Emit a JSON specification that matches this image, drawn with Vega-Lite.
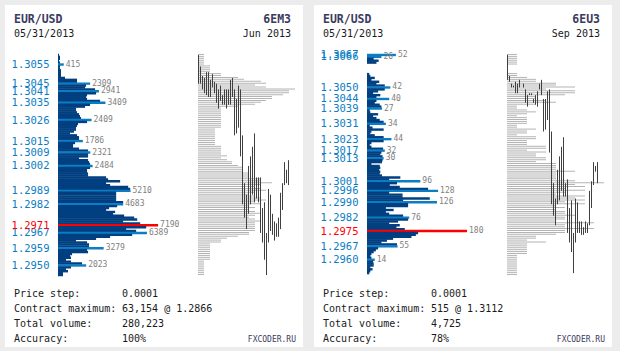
{
"$schema": "https://vega.github.io/schema/vega-lite/v6.json",
"background": "#ececec",
"padding": {"left": 5, "top": 5, "right": 8, "bottom": 4},
"config": {"view": {"stroke": null, "fill": "#ffffff"}, "font": "DejaVu Sans Mono"},
"datasets": {
"volL": [
{"p":1.3060,"vol":72,"kind":"n"},{"p":1.3059,"vol":144,"kind":"n"},{"p":1.3058,"vol":144,"kind":"n"},{"p":1.3057,"vol":72,"kind":"n"},{"p":1.3056,"vol":144,"kind":"n"},
{"p":1.3055,"vol":415,"kind":"p"},{"p":1.3054,"vol":144,"kind":"n"},{"p":1.3053,"vol":144,"kind":"n"},{"p":1.3052,"vol":216,"kind":"n"},{"p":1.3051,"vol":216,"kind":"n"},
{"p":1.3050,"vol":216,"kind":"n"},{"p":1.3049,"vol":216,"kind":"n"},{"p":1.3048,"vol":504,"kind":"n"},{"p":1.3047,"vol":1368,"kind":"n"},{"p":1.3046,"vol":1368,"kind":"n"},
{"p":1.3045,"vol":2309,"kind":"p"},{"p":1.3044,"vol":2016,"kind":"n"},{"p":1.3043,"vol":1944,"kind":"n"},{"p":1.3042,"vol":2664,"kind":"n"},{"p":1.3041,"vol":2941,"kind":"p"},
{"p":1.3040,"vol":2736,"kind":"n"},{"p":1.3039,"vol":2088,"kind":"n"},{"p":1.3038,"vol":2016,"kind":"n"},{"p":1.3037,"vol":2088,"kind":"n"},{"p":1.3036,"vol":3024,"kind":"n"},
{"p":1.3035,"vol":3409,"kind":"p"},{"p":1.3034,"vol":2304,"kind":"n"},{"p":1.3033,"vol":1944,"kind":"n"},{"p":1.3032,"vol":1296,"kind":"n"},{"p":1.3031,"vol":1296,"kind":"n"},
{"p":1.3030,"vol":1368,"kind":"n"},{"p":1.3029,"vol":1512,"kind":"n"},{"p":1.3028,"vol":1584,"kind":"n"},{"p":1.3027,"vol":1656,"kind":"n"},{"p":1.3026,"vol":2409,"kind":"p"},
{"p":1.3025,"vol":2088,"kind":"n"},{"p":1.3024,"vol":1440,"kind":"n"},{"p":1.3023,"vol":1368,"kind":"n"},{"p":1.3022,"vol":1296,"kind":"n"},{"p":1.3021,"vol":1296,"kind":"n"},
{"p":1.3020,"vol":1152,"kind":"n"},{"p":1.3019,"vol":864,"kind":"n"},{"p":1.3018,"vol":1368,"kind":"n"},{"p":1.3017,"vol":1512,"kind":"n"},{"p":1.3016,"vol":1512,"kind":"n"},
{"p":1.3015,"vol":1786,"kind":"p"},{"p":1.3014,"vol":1224,"kind":"n"},{"p":1.3013,"vol":1080,"kind":"n"},{"p":1.3012,"vol":1080,"kind":"n"},{"p":1.3011,"vol":1512,"kind":"n"},
{"p":1.3010,"vol":2160,"kind":"n"},{"p":1.3009,"vol":2321,"kind":"p"},{"p":1.3008,"vol":2160,"kind":"n"},{"p":1.3007,"vol":2160,"kind":"n"},{"p":1.3006,"vol":1512,"kind":"n"},
{"p":1.3005,"vol":2160,"kind":"n"},{"p":1.3004,"vol":2232,"kind":"n"},{"p":1.3003,"vol":2304,"kind":"n"},{"p":1.3002,"vol":2484,"kind":"p"},{"p":1.3001,"vol":2304,"kind":"n"},
{"p":1.3000,"vol":2088,"kind":"n"},{"p":1.2999,"vol":2088,"kind":"n"},{"p":1.2998,"vol":2160,"kind":"n"},{"p":1.2997,"vol":2160,"kind":"n"},{"p":1.2996,"vol":3456,"kind":"n"},
{"p":1.2995,"vol":3600,"kind":"n"},{"p":1.2994,"vol":4464,"kind":"n"},{"p":1.2993,"vol":3456,"kind":"n"},{"p":1.2992,"vol":3744,"kind":"n"},{"p":1.2991,"vol":5040,"kind":"n"},
{"p":1.2990,"vol":5184,"kind":"n"},{"p":1.2989,"vol":5210,"kind":"p"},{"p":1.2988,"vol":4176,"kind":"n"},{"p":1.2987,"vol":4176,"kind":"n"},{"p":1.2986,"vol":4176,"kind":"n"},
{"p":1.2985,"vol":4176,"kind":"n"},{"p":1.2984,"vol":4176,"kind":"n"},{"p":1.2983,"vol":4680,"kind":"n"},{"p":1.2982,"vol":4683,"kind":"p"},{"p":1.2981,"vol":4248,"kind":"n"},
{"p":1.2980,"vol":3672,"kind":"n"},{"p":1.2979,"vol":3456,"kind":"n"},{"p":1.2978,"vol":4104,"kind":"n"},{"p":1.2977,"vol":3960,"kind":"n"},{"p":1.2976,"vol":4752,"kind":"n"},
{"p":1.2975,"vol":5472,"kind":"n"},{"p":1.2974,"vol":5688,"kind":"n"},{"p":1.2973,"vol":4680,"kind":"n"},{"p":1.2972,"vol":5904,"kind":"n"},{"p":1.2971,"vol":7190,"kind":"m"},
{"p":1.2970,"vol":6336,"kind":"n"},{"p":1.2969,"vol":4896,"kind":"n"},{"p":1.2968,"vol":5616,"kind":"n"},{"p":1.2967,"vol":6389,"kind":"p"},{"p":1.2966,"vol":5328,"kind":"n"},
{"p":1.2965,"vol":3744,"kind":"n"},{"p":1.2964,"vol":2736,"kind":"n"},{"p":1.2963,"vol":1296,"kind":"n"},{"p":1.2962,"vol":2088,"kind":"n"},{"p":1.2961,"vol":2232,"kind":"n"},
{"p":1.2960,"vol":2232,"kind":"n"},{"p":1.2959,"vol":3279,"kind":"p"},{"p":1.2958,"vol":2088,"kind":"n"},{"p":1.2957,"vol":2160,"kind":"n"},{"p":1.2956,"vol":1008,"kind":"n"},
{"p":1.2955,"vol":864,"kind":"n"},{"p":1.2954,"vol":936,"kind":"n"},{"p":1.2953,"vol":576,"kind":"n"},{"p":1.2952,"vol":936,"kind":"n"},{"p":1.2951,"vol":1728,"kind":"n"},
{"p":1.2950,"vol":2023,"kind":"p"},{"p":1.2949,"vol":936,"kind":"n"},{"p":1.2948,"vol":576,"kind":"n"},{"p":1.2947,"vol":720,"kind":"n"},{"p":1.2946,"vol":360,"kind":"n"},
{"p":1.2945,"vol":360,"kind":"n"}
],
"volR": [
{"p":1.3067,"vol":52,"kind":"p"},{"p":1.3066,"vol":26,"kind":"p"},{"p":1.3065,"vol":12,"kind":"n"},{"p":1.3064,"vol":21,"kind":"n"},{"p":1.3063,"vol":17,"kind":"n"},
{"p":1.3057,"vol":4,"kind":"n"},{"p":1.3056,"vol":6,"kind":"n"},{"p":1.3055,"vol":14,"kind":"n"},{"p":1.3054,"vol":8,"kind":"n"},{"p":1.3053,"vol":22,"kind":"n"},
{"p":1.3052,"vol":17,"kind":"n"},{"p":1.3051,"vol":32,"kind":"n"},{"p":1.3050,"vol":42,"kind":"p"},{"p":1.3049,"vol":32,"kind":"n"},{"p":1.3048,"vol":20,"kind":"n"},
{"p":1.3047,"vol":11,"kind":"n"},{"p":1.3046,"vol":24,"kind":"n"},{"p":1.3045,"vol":17,"kind":"n"},{"p":1.3044,"vol":40,"kind":"p"},{"p":1.3043,"vol":17,"kind":"n"},
{"p":1.3042,"vol":14,"kind":"n"},{"p":1.3041,"vol":23,"kind":"n"},{"p":1.3040,"vol":26,"kind":"n"},{"p":1.3039,"vol":27,"kind":"p"},{"p":1.3038,"vol":5,"kind":"n"},
{"p":1.3037,"vol":6,"kind":"n"},{"p":1.3036,"vol":20,"kind":"n"},{"p":1.3035,"vol":11,"kind":"n"},{"p":1.3034,"vol":17,"kind":"n"},{"p":1.3033,"vol":23,"kind":"n"},
{"p":1.3032,"vol":30,"kind":"n"},{"p":1.3031,"vol":34,"kind":"p"},{"p":1.3030,"vol":5,"kind":"n"},{"p":1.3029,"vol":10,"kind":"n"},{"p":1.3028,"vol":30,"kind":"n"},
{"p":1.3027,"vol":8,"kind":"n"},{"p":1.3026,"vol":6,"kind":"n"},{"p":1.3025,"vol":14,"kind":"n"},{"p":1.3024,"vol":30,"kind":"n"},{"p":1.3023,"vol":44,"kind":"p"},
{"p":1.3022,"vol":30,"kind":"n"},{"p":1.3021,"vol":8,"kind":"n"},{"p":1.3020,"vol":5,"kind":"n"},{"p":1.3019,"vol":8,"kind":"n"},{"p":1.3018,"vol":29,"kind":"n"},
{"p":1.3017,"vol":32,"kind":"p"},{"p":1.3016,"vol":26,"kind":"n"},{"p":1.3015,"vol":24,"kind":"n"},{"p":1.3014,"vol":28,"kind":"n"},{"p":1.3013,"vol":30,"kind":"p"},
{"p":1.3012,"vol":28,"kind":"n"},{"p":1.3011,"vol":27,"kind":"n"},{"p":1.3010,"vol":8,"kind":"n"},{"p":1.3009,"vol":23,"kind":"n"},{"p":1.3008,"vol":24,"kind":"n"},
{"p":1.3007,"vol":22,"kind":"n"},{"p":1.3006,"vol":24,"kind":"n"},{"p":1.3005,"vol":23,"kind":"n"},{"p":1.3004,"vol":27,"kind":"n"},{"p":1.3003,"vol":60,"kind":"n"},
{"p":1.3002,"vol":40,"kind":"n"},{"p":1.3001,"vol":96,"kind":"p"},{"p":1.3000,"vol":54,"kind":"n"},{"p":1.2999,"vol":41,"kind":"n"},{"p":1.2998,"vol":59,"kind":"n"},
{"p":1.2997,"vol":110,"kind":"n"},{"p":1.2996,"vol":128,"kind":"p"},{"p":1.2995,"vol":40,"kind":"n"},{"p":1.2994,"vol":64,"kind":"n"},{"p":1.2993,"vol":64,"kind":"n"},
{"p":1.2992,"vol":113,"kind":"n"},{"p":1.2991,"vol":65,"kind":"n"},{"p":1.2990,"vol":126,"kind":"p"},{"p":1.2989,"vol":74,"kind":"n"},{"p":1.2988,"vol":74,"kind":"n"},
{"p":1.2987,"vol":34,"kind":"n"},{"p":1.2986,"vol":48,"kind":"n"},{"p":1.2985,"vol":34,"kind":"n"},{"p":1.2984,"vol":40,"kind":"n"},{"p":1.2983,"vol":65,"kind":"n"},
{"p":1.2982,"vol":76,"kind":"p"},{"p":1.2981,"vol":74,"kind":"n"},{"p":1.2980,"vol":56,"kind":"n"},{"p":1.2979,"vol":40,"kind":"n"},{"p":1.2978,"vol":59,"kind":"n"},
{"p":1.2977,"vol":53,"kind":"n"},{"p":1.2976,"vol":68,"kind":"n"},{"p":1.2975,"vol":180,"kind":"m"},{"p":1.2974,"vol":92,"kind":"n"},{"p":1.2973,"vol":88,"kind":"n"},
{"p":1.2972,"vol":80,"kind":"n"},{"p":1.2971,"vol":47,"kind":"n"},{"p":1.2970,"vol":36,"kind":"n"},{"p":1.2969,"vol":26,"kind":"n"},{"p":1.2968,"vol":54,"kind":"n"},
{"p":1.2967,"vol":55,"kind":"p"},{"p":1.2966,"vol":20,"kind":"n"},{"p":1.2965,"vol":16,"kind":"n"},{"p":1.2964,"vol":12,"kind":"n"},{"p":1.2963,"vol":8,"kind":"n"},
{"p":1.2962,"vol":6,"kind":"n"},{"p":1.2961,"vol":8,"kind":"n"},{"p":1.2960,"vol":14,"kind":"p"},{"p":1.2959,"vol":11,"kind":"n"},{"p":1.2958,"vol":12,"kind":"n"},
{"p":1.2957,"vol":12,"kind":"n"},{"p":1.2956,"vol":6,"kind":"n"},{"p":1.2955,"vol":10,"kind":"n"},{"p":1.2954,"vol":6,"kind":"n"},{"p":1.2953,"vol":4,"kind":"n"}
],
"grayL": [
{"p":1.3060,"v":6},{"p":1.3059,"v":6},{"p":1.3058,"v":6},{"p":1.3057,"v":6},{"p":1.3056,"v":6},{"p":1.3055,"v":6},
{"p":1.3054,"v":12},{"p":1.3053,"v":12},{"p":1.3052,"v":12},{"p":1.3051,"v":12},{"p":1.3050,"v":23},{"p":1.3049,"v":23},
{"p":1.3048,"v":40},{"p":1.3047,"v":46},{"p":1.3046,"v":63},{"p":1.3045,"v":68},{"p":1.3044,"v":57},{"p":1.3043,"v":68},
{"p":1.3042,"v":97},{"p":1.3041,"v":91},{"p":1.3040,"v":91},{"p":1.3039,"v":85},{"p":1.3038,"v":74},{"p":1.3037,"v":74},
{"p":1.3036,"v":68},{"p":1.3035,"v":63},{"p":1.3034,"v":57},{"p":1.3033,"v":40},{"p":1.3032,"v":23},{"p":1.3031,"v":23},
{"p":1.3030,"v":23},{"p":1.3029,"v":23},{"p":1.3028,"v":23},{"p":1.3027,"v":23},{"p":1.3026,"v":23},{"p":1.3025,"v":23},
{"p":1.3024,"v":23},{"p":1.3023,"v":23},{"p":1.3022,"v":23},{"p":1.3021,"v":17},{"p":1.3020,"v":17},{"p":1.3019,"v":17},
{"p":1.3018,"v":17},{"p":1.3017,"v":17},{"p":1.3016,"v":17},{"p":1.3015,"v":17},{"p":1.3014,"v":17},{"p":1.3013,"v":17},
{"p":1.3012,"v":23},{"p":1.3011,"v":23},{"p":1.3010,"v":23},{"p":1.3009,"v":23},{"p":1.3008,"v":23},{"p":1.3007,"v":29},
{"p":1.3006,"v":23},{"p":1.3005,"v":29},{"p":1.3004,"v":34},{"p":1.3003,"v":34},{"p":1.3002,"v":40},{"p":1.3001,"v":45},
{"p":1.3000,"v":45},{"p":1.2999,"v":45},{"p":1.2998,"v":51},{"p":1.2997,"v":51},{"p":1.2996,"v":51},{"p":1.2995,"v":63},
{"p":1.2994,"v":63},{"p":1.2993,"v":74},{"p":1.2992,"v":63},{"p":1.2991,"v":57},{"p":1.2990,"v":63},{"p":1.2989,"v":68},
{"p":1.2988,"v":57},{"p":1.2987,"v":51},{"p":1.2986,"v":57},{"p":1.2985,"v":63},{"p":1.2984,"v":68},{"p":1.2983,"v":57},
{"p":1.2982,"v":63},{"p":1.2981,"v":51},{"p":1.2980,"v":57},{"p":1.2979,"v":51},{"p":1.2978,"v":57},{"p":1.2977,"v":63},
{"p":1.2976,"v":57},{"p":1.2975,"v":51},{"p":1.2974,"v":57},{"p":1.2973,"v":63},{"p":1.2972,"v":57},{"p":1.2971,"v":57},
{"p":1.2970,"v":57},{"p":1.2969,"v":57},{"p":1.2968,"v":57},{"p":1.2967,"v":51},{"p":1.2966,"v":51},{"p":1.2965,"v":40},
{"p":1.2964,"v":29},{"p":1.2963,"v":23},{"p":1.2962,"v":23},{"p":1.2961,"v":12},{"p":1.2960,"v":12},{"p":1.2959,"v":12},
{"p":1.2958,"v":12},{"p":1.2957,"v":12},{"p":1.2956,"v":12},{"p":1.2955,"v":12},{"p":1.2954,"v":12},{"p":1.2953,"v":12},
{"p":1.2952,"v":6},{"p":1.2951,"v":6},{"p":1.2950,"v":6},{"p":1.2949,"v":6},{"p":1.2948,"v":6},{"p":1.2947,"v":6},
{"p":1.2946,"v":6},{"p":1.2945,"v":6}
],
"grayR": [
{"p":1.3067,"v":10},{"p":1.3066,"v":10},{"p":1.3065,"v":10},{"p":1.3064,"v":10},{"p":1.3063,"v":10},{"p":1.3062,"v":10},
{"p":1.3057,"v":10},{"p":1.3056,"v":10},{"p":1.3055,"v":20},{"p":1.3054,"v":29},{"p":1.3053,"v":29},{"p":1.3052,"v":49},
{"p":1.3051,"v":49},{"p":1.3050,"v":68},{"p":1.3049,"v":39},{"p":1.3048,"v":68},{"p":1.3047,"v":68},{"p":1.3046,"v":58},
{"p":1.3045,"v":29},{"p":1.3044,"v":29},{"p":1.3043,"v":39},{"p":1.3042,"v":49},{"p":1.3041,"v":29},{"p":1.3040,"v":10},
{"p":1.3039,"v":10},{"p":1.3038,"v":20},{"p":1.3037,"v":29},{"p":1.3036,"v":20},{"p":1.3035,"v":10},{"p":1.3034,"v":20},
{"p":1.3033,"v":20},{"p":1.3032,"v":20},{"p":1.3031,"v":20},{"p":1.3030,"v":10},{"p":1.3029,"v":10},{"p":1.3028,"v":29},
{"p":1.3027,"v":20},{"p":1.3026,"v":20},{"p":1.3025,"v":10},{"p":1.3024,"v":29},{"p":1.3023,"v":29},{"p":1.3022,"v":20},
{"p":1.3021,"v":20},{"p":1.3020,"v":20},{"p":1.3019,"v":39},{"p":1.3018,"v":39},{"p":1.3017,"v":20},{"p":1.3016,"v":39},
{"p":1.3015,"v":29},{"p":1.3014,"v":29},{"p":1.3013,"v":39},{"p":1.3012,"v":39},{"p":1.3011,"v":29},{"p":1.3010,"v":49},
{"p":1.3009,"v":49},{"p":1.3008,"v":49},{"p":1.3007,"v":49},{"p":1.3006,"v":68},{"p":1.3005,"v":49},{"p":1.3004,"v":49},
{"p":1.3003,"v":49},{"p":1.3002,"v":49},{"p":1.3001,"v":68},{"p":1.3000,"v":97},{"p":1.2999,"v":68},{"p":1.2998,"v":78},
{"p":1.2997,"v":58},{"p":1.2996,"v":78},{"p":1.2995,"v":58},{"p":1.2994,"v":49},{"p":1.2993,"v":78},{"p":1.2992,"v":68},
{"p":1.2991,"v":78},{"p":1.2990,"v":58},{"p":1.2989,"v":78},{"p":1.2988,"v":49},{"p":1.2987,"v":58},{"p":1.2986,"v":49},
{"p":1.2985,"v":58},{"p":1.2984,"v":58},{"p":1.2983,"v":68},{"p":1.2982,"v":58},{"p":1.2981,"v":58},{"p":1.2980,"v":49},
{"p":1.2979,"v":87},{"p":1.2978,"v":58},{"p":1.2977,"v":58},{"p":1.2976,"v":87},{"p":1.2975,"v":58},{"p":1.2974,"v":58},
{"p":1.2973,"v":49},{"p":1.2972,"v":29},{"p":1.2971,"v":29},{"p":1.2970,"v":20},{"p":1.2969,"v":39},{"p":1.2968,"v":20},
{"p":1.2967,"v":20},{"p":1.2966,"v":20},{"p":1.2965,"v":20},{"p":1.2964,"v":20},{"p":1.2963,"v":20},{"p":1.2962,"v":10},
{"p":1.2961,"v":10},{"p":1.2960,"v":10},{"p":1.2959,"v":10},{"p":1.2958,"v":10},{"p":1.2957,"v":10},{"p":1.2956,"v":10},
{"p":1.2955,"v":10},{"p":1.2954,"v":10},{"p":1.2953,"v":10},{"p":1.2952,"v":10}
],
"barsL": [
{"t":0,"hi":1.3060,"lo":1.3045},{"t":1,"hi":1.3054,"lo":1.3045},{"t":2,"hi":1.3049,"lo":1.3042},{"t":3,"hi":1.3048,"lo":1.3040},
{"t":4,"hi":1.3051,"lo":1.3039},{"t":5,"hi":1.3051,"lo":1.3038},{"t":6,"hi":1.3047,"lo":1.3038},{"t":7,"hi":1.3050,"lo":1.3043},
{"t":8,"hi":1.3046,"lo":1.3040},{"t":9,"hi":1.3045,"lo":1.3035},{"t":10,"hi":1.3042,"lo":1.3032},{"t":11,"hi":1.3044,"lo":1.3036},
{"t":12,"hi":1.3039,"lo":1.3034},{"t":13,"hi":1.3042,"lo":1.3034},{"t":14,"hi":1.3042,"lo":1.3032},{"t":15,"hi":1.3042,"lo":1.3034},
{"t":16,"hi":1.3047,"lo":1.3034},{"t":17,"hi":1.3048,"lo":1.3038},{"t":18,"hi":1.3042,"lo":1.3018},{"t":19,"hi":1.3037,"lo":1.3019},
{"t":20,"hi":1.3044,"lo":1.3022},{"t":21,"hi":1.3042,"lo":1.3007},{"t":22,"hi":1.3018,"lo":1.2982},{"t":23,"hi":1.2993,"lo":1.2975},
{"t":24,"hi":1.2987,"lo":1.2969},{"t":25,"hi":1.3002,"lo":1.2977},{"t":26,"hi":1.3007,"lo":1.2982},{"t":27,"hi":1.3012,"lo":1.2987},
{"t":28,"hi":1.3019,"lo":1.2983},{"t":29,"hi":1.2996,"lo":1.2985},{"t":30,"hi":1.2996,"lo":1.2983},{"t":31,"hi":1.2996,"lo":1.2967},
{"t":32,"hi":1.2980,"lo":1.2962},{"t":33,"hi":1.2983,"lo":1.2953},{"t":34,"hi":1.2967,"lo":1.2945},{"t":35,"hi":1.2990,"lo":1.2962},
{"t":36,"hi":1.2987,"lo":1.2968},{"t":37,"hi":1.2977,"lo":1.2966},{"t":38,"hi":1.2973,"lo":1.2963},{"t":39,"hi":1.2972,"lo":1.2965},
{"t":40,"hi":1.2975,"lo":1.2965},{"t":41,"hi":1.2988,"lo":1.2969},{"t":42,"hi":1.2993,"lo":1.2979},{"t":43,"hi":1.3004,"lo":1.2992},
{"t":44,"hi":1.3000,"lo":1.2993},{"t":45,"hi":1.3005,"lo":1.2992}
],
"barsR": [
{"t":0,"hi":1.3067,"lo":1.3054},{"t":1,"hi":1.3056,"lo":1.3053},{"t":2,"hi":1.3052,"lo":1.3050},{"t":3,"hi":1.3051,"lo":1.3050},
{"t":4,"hi":1.3053,"lo":1.3047},{"t":5,"hi":1.3052,"lo":1.3047},{"t":6,"hi":1.3054,"lo":1.3050},{"t":8,"hi":1.3052,"lo":1.3050},
{"t":9,"hi":1.3049,"lo":1.3042},{"t":10,"hi":1.3046,"lo":1.3040},{"t":11,"hi":1.3047,"lo":1.3046},{"t":12,"hi":1.3047,"lo":1.3046},
{"t":13,"hi":1.3044,"lo":1.3042},{"t":14,"hi":1.3046,"lo":1.3041},{"t":15,"hi":1.3048,"lo":1.3040},{"t":16,"hi":1.3052,"lo":1.3049},
{"t":17,"hi":1.3054,"lo":1.3046},{"t":18,"hi":1.3044,"lo":1.3027},{"t":19,"hi":1.3044,"lo":1.3028},{"t":20,"hi":1.3048,"lo":1.3033},
{"t":21,"hi":1.3049,"lo":1.3016},{"t":22,"hi":1.3027,"lo":1.2989},{"t":23,"hi":1.3000,"lo":1.2983},{"t":24,"hi":1.2992,"lo":1.2978},
{"t":25,"hi":1.3007,"lo":1.2989},{"t":26,"hi":1.3014,"lo":1.2991},{"t":27,"hi":1.3019,"lo":1.2996},{"t":28,"hi":1.3024,"lo":1.2993},
{"t":29,"hi":1.3000,"lo":1.2993},{"t":30,"hi":1.3002,"lo":1.2974},{"t":31,"hi":1.2987,"lo":1.2969},{"t":32,"hi":1.2991,"lo":1.2964},
{"t":33,"hi":1.2974,"lo":1.2953},{"t":34,"hi":1.2992,"lo":1.2969},{"t":35,"hi":1.2990,"lo":1.2974},{"t":36,"hi":1.2980,"lo":1.2974},
{"t":37,"hi":1.2980,"lo":1.2973},{"t":38,"hi":1.2977,"lo":1.2973},{"t":39,"hi":1.2980,"lo":1.2974},{"t":40,"hi":1.2979,"lo":1.2974},
{"t":41,"hi":1.2996,"lo":1.2978},{"t":42,"hi":1.3001,"lo":1.2987},{"t":43,"hi":1.3011,"lo":1.2999},{"t":44,"hi":1.3009,"lo":1.3006},
{"t":45,"hi":1.3011,"lo":1.3000}
]
},
"spacing": 11,
"hconcat": [
{"vconcat": [
 {"width": 298, "height": 44,
  "data": {"values": [{"pair": "EUR/USD", "date": "05/31/2013", "contract": "6EM3", "month": "Jun 2013"}]},
  "layer": [
   {"mark": {"type": "text", "align": "left", "baseline": "alphabetic", "fontWeight": "bold", "fontSize": 11.5, "color": "#3b3b5e"},
    "encoding": {"text": {"field": "pair"}, "x": {"datum": 0, "type": "quantitative", "scale": {"domain": [0, 1], "range": [9, 286]}, "axis": null}, "y": {"datum": 1, "type": "quantitative", "scale": {"domain": [1, 2], "range": [18, 32]}, "axis": null}}},
   {"mark": {"type": "text", "align": "right", "baseline": "alphabetic", "fontWeight": "bold", "fontSize": 11.5, "color": "#3b3b5e"},
    "encoding": {"text": {"field": "contract"}, "x": {"datum": 1, "type": "quantitative", "scale": {"domain": [0, 1], "range": [9, 286]}, "axis": null}, "y": {"datum": 1, "type": "quantitative", "scale": {"domain": [1, 2], "range": [18, 32]}, "axis": null}}},
   {"mark": {"type": "text", "align": "left", "baseline": "alphabetic", "fontSize": 10, "color": "#1a1a1a"},
    "encoding": {"text": {"field": "date"}, "x": {"datum": 0, "type": "quantitative", "scale": {"domain": [0, 1], "range": [9, 286]}, "axis": null}, "y": {"datum": 2, "type": "quantitative", "scale": {"domain": [1, 2], "range": [18, 32]}, "axis": null}}},
   {"mark": {"type": "text", "align": "right", "baseline": "alphabetic", "fontSize": 10, "color": "#1a1a1a"},
    "encoding": {"text": {"field": "month"}, "x": {"datum": 1, "type": "quantitative", "scale": {"domain": [0, 1], "range": [9, 286]}, "axis": null}, "y": {"datum": 2, "type": "quantitative", "scale": {"domain": [1, 2], "range": [18, 32]}, "axis": null}}}
  ]},
 {"width": 298, "height": 232,
  "layer": [
   {"data": {"name": "grayL"}, "mark": {"type": "bar", "orient": "horizontal", "size": 1, "yOffset": -0.5, "color": "#b4b4b4"},
    "encoding": {"x": {"field": "v", "type": "quantitative", "stack": null, "scale": {"domain": [0, 100], "range": [193, 293]}, "axis": null},
                 "y": {"field": "p", "type": "quantitative", "scale": {"domain": [1.29445, 1.30605], "nice": false, "zero": false}, "axis": null}}},
   {"data": {"name": "barsL"}, "mark": {"type": "rule", "color": "#404040", "strokeWidth": 1},
    "encoding": {"x": {"field": "t", "type": "quantitative", "scale": {"domain": [0, 45], "range": [193.5, 283.5]}, "axis": null},
                 "y": {"field": "hi", "type": "quantitative", "scale": {"domain": [1.29445, 1.30605], "nice": false, "zero": false}, "axis": null},
                 "y2": {"field": "lo"}}},
   {"data": {"name": "volL"}, "mark": {"type": "bar", "orient": "horizontal", "size": 2.4},
    "encoding": {"x": {"field": "vol", "type": "quantitative", "stack": null, "scale": {"domain": [0, 17600], "range": [53, 298]}, "axis": null},
                 "y": {"field": "p", "type": "quantitative", "scale": {"domain": [1.29445, 1.30605], "nice": false, "zero": false},
                       "axis": {"orient": "left", "values": [1.3055, 1.3045, 1.3041, 1.3035, 1.3026, 1.3015, 1.3009, 1.3002, 1.2989, 1.2982, 1.2971, 1.2967, 1.2959, 1.2950],
                                "format": ".4f", "title": null, "domain": false, "ticks": false, "grid": false, "labelPadding": 0, "offset": -44,
                                "labelFont": "DejaVu Sans Mono", "labelFontSize": 10.5, "labelOverlap": false, "labelFlush": false,
                                "labelColor": {"condition": {"test": "abs(datum.value - 1.2971) < 0.00001", "value": "#ff0000"}, "value": "#0a7dc3"}}},
                 "color": {"field": "kind", "type": "nominal", "scale": {"domain": ["n", "p", "m"], "range": ["#013f80", "#0a7dc3", "#ff0000"]}, "legend": null}}},
   {"data": {"name": "volL"}, "transform": [{"filter": "datum.kind != 'n'"}],
    "mark": {"type": "text", "align": "left", "baseline": "middle", "dx": 2, "fontSize": 8, "color": "#808080"},
    "encoding": {"x": {"field": "vol", "type": "quantitative", "stack": null, "scale": {"domain": [0, 17600], "range": [53, 298]}, "axis": null},
                 "y": {"field": "p", "type": "quantitative", "scale": {"domain": [1.29445, 1.30605], "nice": false, "zero": false}, "axis": null},
                 "text": {"field": "vol", "type": "quantitative", "format": "d"}}}
  ],
  "resolve": {"scale": {"x": "independent"}, "axis": {"y": "independent"}}},
 {"width": 298, "height": 66,
  "data": {"values": [{"k": "Price step:", "v": "0.0001", "site": ""}, {"k": "Contract maximum:", "v": "63,154 @ 1.2866", "site": ""}, {"k": "Total volume:", "v": "280,223", "site": ""}, {"k": "Accuracy:", "v": "100%", "site": "FXCODER.RU"}]},
  "encoding": {"y": {"field": "k", "type": "nominal", "sort": null, "scale": {"type": "point", "domain": ["Price step:", "Contract maximum:", "Total volume:", "Accuracy:"], "padding": 0.7}, "axis": null}},
  "layer": [
   {"mark": {"type": "text", "align": "left", "baseline": "alphabetic", "dy": 5, "fontSize": 10, "color": "#1a1a1a"},
    "encoding": {"text": {"field": "k"}, "x": {"datum": 0, "type": "quantitative", "scale": {"domain": [0, 1], "range": [9, 117]}, "axis": null}}},
   {"mark": {"type": "text", "align": "left", "baseline": "alphabetic", "dy": 5, "fontSize": 10, "color": "#1a1a1a"},
    "encoding": {"text": {"field": "v"}, "x": {"datum": 1, "type": "quantitative", "scale": {"domain": [0, 1], "range": [9, 117]}, "axis": null}}},
   {"mark": {"type": "text", "align": "right", "baseline": "alphabetic", "dy": 5, "fontSize": 8, "color": "#3b3b5e"},
    "encoding": {"text": {"field": "site"}, "x": {"datum": 1, "type": "quantitative", "scale": {"domain": [0, 1], "range": [9, 291]}, "axis": null}}}
  ],
  "resolve": {"scale": {"x": "independent"}}}
 ], "spacing": 0, "bounds": "flush"},
{"vconcat": [
 {"width": 298, "height": 44,
  "data": {"values": [{"pair": "EUR/USD", "date": "05/31/2013", "contract": "6EU3", "month": "Sep 2013"}]},
  "layer": [
   {"mark": {"type": "text", "align": "left", "baseline": "alphabetic", "fontWeight": "bold", "fontSize": 11.5, "color": "#3b3b5e"},
    "encoding": {"text": {"field": "pair"}, "x": {"datum": 0, "type": "quantitative", "scale": {"domain": [0, 1], "range": [9, 286]}, "axis": null}, "y": {"datum": 1, "type": "quantitative", "scale": {"domain": [1, 2], "range": [18, 32]}, "axis": null}}},
   {"mark": {"type": "text", "align": "right", "baseline": "alphabetic", "fontWeight": "bold", "fontSize": 11.5, "color": "#3b3b5e"},
    "encoding": {"text": {"field": "contract"}, "x": {"datum": 1, "type": "quantitative", "scale": {"domain": [0, 1], "range": [9, 286]}, "axis": null}, "y": {"datum": 1, "type": "quantitative", "scale": {"domain": [1, 2], "range": [18, 32]}, "axis": null}}},
   {"mark": {"type": "text", "align": "left", "baseline": "alphabetic", "fontSize": 10, "color": "#1a1a1a"},
    "encoding": {"text": {"field": "date"}, "x": {"datum": 0, "type": "quantitative", "scale": {"domain": [0, 1], "range": [9, 286]}, "axis": null}, "y": {"datum": 2, "type": "quantitative", "scale": {"domain": [1, 2], "range": [18, 32]}, "axis": null}}},
   {"mark": {"type": "text", "align": "right", "baseline": "alphabetic", "fontSize": 10, "color": "#1a1a1a"},
    "encoding": {"text": {"field": "month"}, "x": {"datum": 1, "type": "quantitative", "scale": {"domain": [0, 1], "range": [9, 286]}, "axis": null}, "y": {"datum": 2, "type": "quantitative", "scale": {"domain": [1, 2], "range": [18, 32]}, "axis": null}}}
  ]},
 {"width": 298, "height": 232,
  "layer": [
   {"data": {"name": "grayR"}, "mark": {"type": "bar", "orient": "horizontal", "size": 1, "yOffset": -0.5, "color": "#b4b4b4"},
    "encoding": {"x": {"field": "v", "type": "quantitative", "stack": null, "scale": {"domain": [0, 100], "range": [193, 293]}, "axis": null},
                 "y": {"field": "p", "type": "quantitative", "scale": {"domain": [1.29515, 1.30675], "nice": false, "zero": false}, "axis": null}}},
   {"data": {"name": "barsR"}, "mark": {"type": "rule", "color": "#404040", "strokeWidth": 1},
    "encoding": {"x": {"field": "t", "type": "quantitative", "scale": {"domain": [0, 45], "range": [193.5, 283.5]}, "axis": null},
                 "y": {"field": "hi", "type": "quantitative", "scale": {"domain": [1.29515, 1.30675], "nice": false, "zero": false}, "axis": null},
                 "y2": {"field": "lo"}}},
   {"data": {"name": "volR"}, "mark": {"type": "bar", "orient": "horizontal", "size": 2.4},
    "encoding": {"x": {"field": "vol", "type": "quantitative", "stack": null, "scale": {"domain": [0, 441], "range": [53, 298]}, "axis": null},
                 "y": {"field": "p", "type": "quantitative", "scale": {"domain": [1.29515, 1.30675], "nice": false, "zero": false},
                       "axis": {"orient": "left", "values": [1.3067, 1.3066, 1.3050, 1.3044, 1.3039, 1.3031, 1.3023, 1.3017, 1.3013, 1.3001, 1.2996, 1.2990, 1.2982, 1.2975, 1.2967, 1.2960],
                                "format": ".4f", "title": null, "domain": false, "ticks": false, "grid": false, "labelPadding": 0, "offset": -44,
                                "labelFont": "DejaVu Sans Mono", "labelFontSize": 10.5, "labelOverlap": false, "labelFlush": false,
                                "labelColor": {"condition": {"test": "abs(datum.value - 1.2975) < 0.00001", "value": "#ff0000"}, "value": "#0a7dc3"}}},
                 "color": {"field": "kind", "type": "nominal", "scale": {"domain": ["n", "p", "m"], "range": ["#013f80", "#0a7dc3", "#ff0000"]}, "legend": null}}},
   {"data": {"name": "volR"}, "transform": [{"filter": "datum.kind != 'n'"}],
    "mark": {"type": "text", "align": "left", "baseline": "middle", "dx": 2, "fontSize": 8, "color": "#808080"},
    "encoding": {"x": {"field": "vol", "type": "quantitative", "stack": null, "scale": {"domain": [0, 441], "range": [53, 298]}, "axis": null},
                 "y": {"field": "p", "type": "quantitative", "scale": {"domain": [1.29515, 1.30675], "nice": false, "zero": false}, "axis": null},
                 "text": {"field": "vol", "type": "quantitative", "format": "d"}}}
  ],
  "resolve": {"scale": {"x": "independent"}, "axis": {"y": "independent"}}},
 {"width": 298, "height": 66,
  "data": {"values": [{"k": "Price step:", "v": "0.0001", "site": ""}, {"k": "Contract maximum:", "v": "515 @ 1.3112", "site": ""}, {"k": "Total volume:", "v": "4,725", "site": ""}, {"k": "Accuracy:", "v": "78%", "site": "FXCODER.RU"}]},
  "encoding": {"y": {"field": "k", "type": "nominal", "sort": null, "scale": {"type": "point", "domain": ["Price step:", "Contract maximum:", "Total volume:", "Accuracy:"], "padding": 0.7}, "axis": null}},
  "layer": [
   {"mark": {"type": "text", "align": "left", "baseline": "alphabetic", "dy": 5, "fontSize": 10, "color": "#1a1a1a"},
    "encoding": {"text": {"field": "k"}, "x": {"datum": 0, "type": "quantitative", "scale": {"domain": [0, 1], "range": [9, 117]}, "axis": null}}},
   {"mark": {"type": "text", "align": "left", "baseline": "alphabetic", "dy": 5, "fontSize": 10, "color": "#1a1a1a"},
    "encoding": {"text": {"field": "v"}, "x": {"datum": 1, "type": "quantitative", "scale": {"domain": [0, 1], "range": [9, 117]}, "axis": null}}},
   {"mark": {"type": "text", "align": "right", "baseline": "alphabetic", "dy": 5, "fontSize": 8, "color": "#3b3b5e"},
    "encoding": {"text": {"field": "site"}, "x": {"datum": 1, "type": "quantitative", "scale": {"domain": [0, 1], "range": [9, 291]}, "axis": null}}}
  ],
  "resolve": {"scale": {"x": "independent"}}}
 ], "spacing": 0, "bounds": "flush"}
]
}
